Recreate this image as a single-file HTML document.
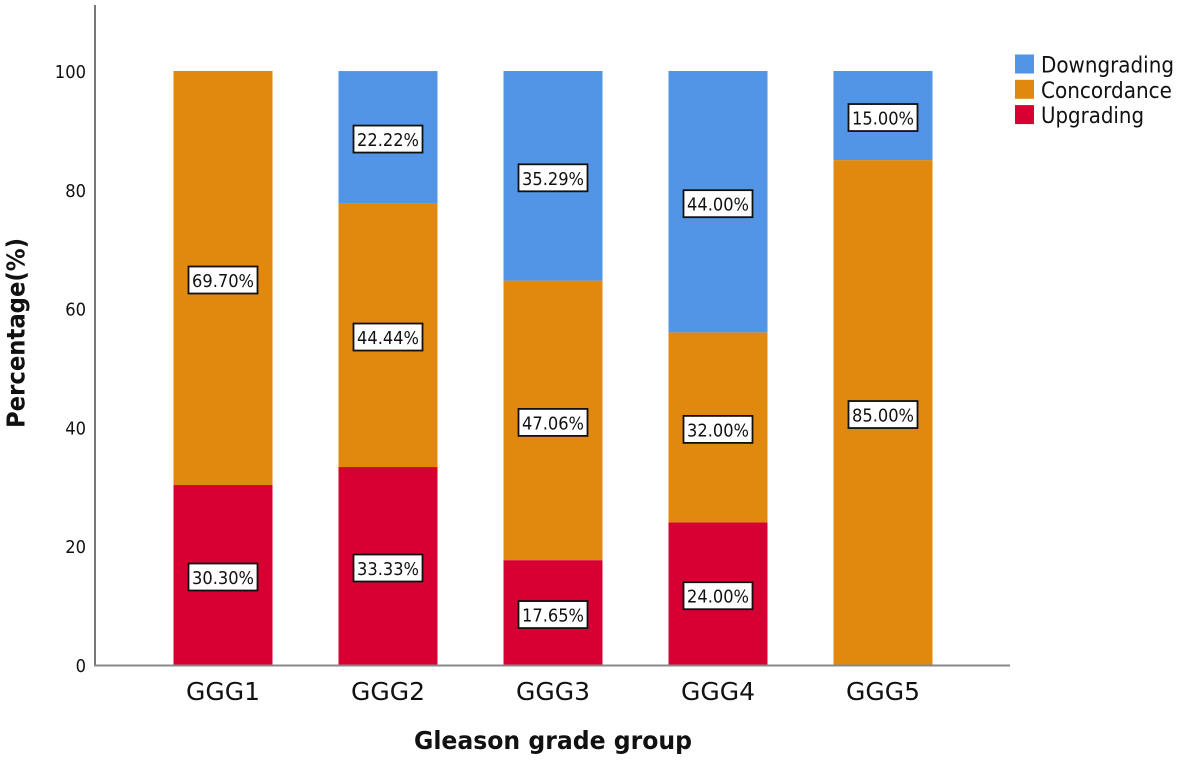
<!DOCTYPE html>
<html lang="en">
<head>
<meta charset="utf-8">
<title>Gleason grade group stacked bar chart</title>
<style>
html,body{margin:0;padding:0;background:#fff;width:1181px;height:761px;overflow:hidden}
svg{display:block;filter:blur(0.35px)}
text{font-family:"DejaVu Sans","Liberation Sans",sans-serif;fill:#111}
</style>
</head>
<body>
<svg id="chart" xmlns="http://www.w3.org/2000/svg" width="1181" height="761" viewBox="0 0 1181 761"></svg>
<script>
const categories = ['GGG1', 'GGG2', 'GGG3', 'GGG4', 'GGG5'];
const upgrading = [30.30, 33.33, 17.65, 24.00, 0];
const concordance = [69.70, 44.44, 47.06, 32.00, 85.00];
const downgrading = [0, 22.22, 35.29, 44.00, 15.00];
const yTicks = [0, 20, 40, 60, 80, 100];
const legendLabels = ['Downgrading', 'Concordance', 'Upgrading'];

const NS = 'http://www.w3.org/2000/svg';
const svg = document.getElementById('chart');
const colors = { Upgrading: '#d70033', Concordance: '#e1890f', Downgrading: '#5295e6' };
const legendWidths = { Upgrading: 103, Concordance: 131, Downgrading: 133 };
const plot = { left: 95, right: 1010, top: 5, bottom: 665 };
const barWidth = 99;

function yScale(v) { return 665 - v * 5.94; }
function xScale(i) { return 223 + i * 165; }

function make(tag, attrs, text) {
  const el = document.createElementNS(NS, tag);
  for (const k in attrs) el.setAttribute(k, attrs[k]);
  if (text !== undefined) el.textContent = text;
  svg.appendChild(el);
  return el;
}

// tick labels
yTicks.forEach(function (t) {
  const label = String(t);
  const el = make('text', { x: 86, y: yScale(t) + 7, 'text-anchor': 'end', 'font-size': 18, textLength: label.length * 10.4, lengthAdjust: 'spacingAndGlyphs' }, label);
  
  
});

// bars
const stack = [
  { name: 'Upgrading', values: upgrading },
  { name: 'Concordance', values: concordance },
  { name: 'Downgrading', values: downgrading }
];
const labelQueue = [];
categories.forEach(function (cat, i) {
  let base = 0;
  stack.forEach(function (s) {
    const v = s.values[i];
    if (v > 0) {
      const y1 = yScale(base + v);
      const y0 = yScale(base);
      const r = make('rect', { x: xScale(i) - barWidth / 2, y: y1, width: barWidth, height: y0 - y1, fill: colors[s.name] });
      
      
      labelQueue.push({ cat: cat, name: s.name, value: v, cx: xScale(i), cy: (y0 + y1) / 2 + 2 });
    }
    base += v;
  });
  const t = make('text', { x: xScale(i), y: 700, 'text-anchor': 'middle', 'font-size': 25, textLength: 74, lengthAdjust: 'spacingAndGlyphs' }, cat);
  
  
});

// value labels
labelQueue.forEach(function (l) {
  const box = make('rect', { x: l.cx - 34.5, y: l.cy - 13.5, width: 69, height: 27, fill: '#fff', stroke: '#111', 'stroke-width': 1.8 });
  
  
  const txt = make('text', { x: l.cx, y: l.cy + 7, 'text-anchor': 'middle', 'font-size': 18, textLength: 62, lengthAdjust: 'spacingAndGlyphs' }, l.value.toFixed(2) + '%');
  
  
});

// axes
const yAxis = make('line', { x1: plot.left, y1: plot.top, x2: plot.left, y2: plot.bottom, stroke: '#777', 'stroke-width': 2 });


const xAxis = make('line', { x1: plot.left - 1, y1: plot.bottom + 0.5, x2: plot.right, y2: plot.bottom + 0.5, stroke: '#888', 'stroke-width': 2 });



// axis titles
const xTitle = make('text', { x: 553, y: 749, 'text-anchor': 'middle', 'font-size': 25, 'font-weight': 'bold', textLength: 278, lengthAdjust: 'spacingAndGlyphs' }, 'Gleason grade group');


const yTitle = make('text', { x: 0, y: 0, transform: 'translate(24.5,333) rotate(-90)', 'text-anchor': 'middle', 'font-size': 25, 'font-weight': 'bold', textLength: 190, lengthAdjust: 'spacingAndGlyphs' }, 'Percentage(%)');



// legend
legendLabels.forEach(function (name, i) {
  const y = 54.5 + i * 25.3;
  const sw = make('rect', { x: 1015, y: y, width: 19, height: 19, fill: colors[name] });
  
  
  const lt = make('text', { x: 1041, y: y + 18, 'font-size': 22, textLength: legendWidths[name], lengthAdjust: 'spacingAndGlyphs' }, name);
  
  
});
</script>
</body>
</html>
